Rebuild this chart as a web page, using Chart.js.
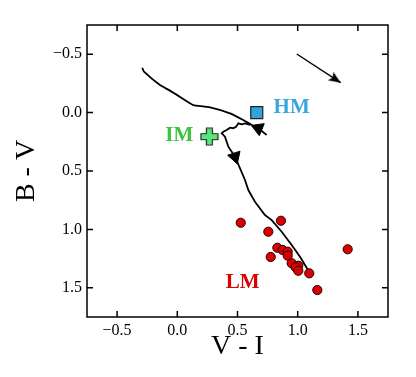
<!DOCTYPE html>
<html><head><meta charset="utf-8">
<script src="https://cdn.jsdelivr.net/npm/chart.js@4.4.1/dist/chart.umd.min.js"></script>
<style>html,body{margin:0;padding:0;background:#fff}canvas{display:block}</style>
</head><body>
<canvas id="c" width="416" height="377"></canvas>
<script>
// ---- data ----
const xTicks = [-0.5, 0.0, 0.5, 1.0, 1.5];
const yTicks = [-0.5, 0.0, 0.5, 1.0, 1.5];

const lmVI = [0.527, 0.861, 0.756, 0.831, 0.875, 0.917, 0.917, 0.776, 0.950, 1.005, 0.983, 1.005, 1.096, 1.163, 1.415];
const lmBV = [0.943, 0.926, 1.020, 1.157, 1.176, 1.191, 1.225, 1.236, 1.290, 1.311, 1.324, 1.354, 1.376, 1.519, 1.170];

const hmVI = [0.66];
const hmBV = [0.0];
const imVI = [0.266];
const imBV = [0.206];

const trackAVI = [-0.291, -0.277, -0.144, -0.061, 0.105, 0.133, 0.272, 0.438, 0.548, 0.618, 0.673, 0.742];
const trackABV = [-0.384, -0.350, -0.236, -0.188, -0.080, -0.065, -0.045, 0.006, 0.063, 0.106, 0.134, 0.192];

const trackBVI = [0.604, 0.562, 0.535, 0.507, 0.488, 0.465, 0.438, 0.410, 0.382, 0.369, 0.396, 0.410, 0.424, 0.452, 0.479, 0.521, 0.562, 0.590, 0.645, 0.728, 0.784, 0.867, 0.950, 1.019, 1.102];
const trackBBV = [0.106, 0.092, 0.100, 0.092, 0.121, 0.134, 0.129, 0.149, 0.164, 0.177, 0.206, 0.249, 0.292, 0.335, 0.378, 0.477, 0.577, 0.663, 0.763, 0.877, 0.920, 1.020, 1.134, 1.234, 1.376];

const markVI = [0.673, 0.479];
const markBV = [0.134, 0.378];

const vecVI = [0.992, 1.357];
const vecBV = [-0.502, -0.256];

const labelText = ['HM', 'IM', 'LM'];
const labelVI = [0.950, 0.017, 0.543];
const labelBV = [-0.045, 0.200, 1.455];
const labelColor = ['#3aa6de', '#3cc43c', '#dd0000'];

// ---- helpers ----
const pts = (xs, ys) => xs.map((x, i) => ({x: x, y: ys[i]}));

function crossImage() {
  const c = document.createElement('canvas');
  c.width = 19; c.height = 19;
  const g = c.getContext('2d');
  const a = 6.5, b = 12.5, s = 18, o = 1;
  g.beginPath();
  g.moveTo(a, o); g.lineTo(b, o); g.lineTo(b, a); g.lineTo(s, a); g.lineTo(s, b);
  g.lineTo(b, b); g.lineTo(b, s); g.lineTo(a, s); g.lineTo(a, b); g.lineTo(o, b);
  g.lineTo(o, a); g.lineTo(a, a); g.closePath();
  g.fillStyle = '#55e87c'; g.fill();
  g.lineWidth = 1.2; g.strokeStyle = '#2a2a2a'; g.stroke();
  return c;
}
function headImage() {
  const c = document.createElement('canvas');
  c.width = 26; c.height = 14;
  const g = c.getContext('2d');
  g.beginPath();
  g.moveTo(13, 7); g.lineTo(1, 2); g.lineTo(3.5, 7); g.lineTo(1, 12); g.closePath();
  g.fillStyle = '#000'; g.fill();
  return c;
}

const serif = '"Liberation Serif", "DejaVu Serif", serif';
const fmt = v => (v < 0 ? '\u2212' : '') + Math.abs(v).toFixed(1);

const framePlugin = {
  id: 'frame',
  afterDatasetsDraw(chart) {
    const ctx = chart.ctx;
    ctx.save();
    ctx.font = 'bold 21px ' + serif;
    ctx.textAlign = 'center';
    ctx.textBaseline = 'middle';
    const xs = chart.scales.x, ys = chart.scales.y;
    labelText.forEach((t, i) => {
      ctx.fillStyle = labelColor[i];
      ctx.fillText(t, xs.getPixelForValue(labelVI[i]), ys.getPixelForValue(labelBV[i]));
    });
    ctx.restore();
  },
  afterDraw(chart) {
    const ctx = chart.ctx, a = chart.chartArea;
    const xs = chart.scales.x, ys = chart.scales.y;
    ctx.save();
    ctx.strokeStyle = '#000';
    ctx.lineWidth = 1.5;
    const L = 6;
    ctx.beginPath();
    xTicks.forEach(v => {
      const px = xs.getPixelForValue(v);
      ctx.moveTo(px, a.bottom); ctx.lineTo(px, a.bottom - L);
      ctx.moveTo(px, a.top); ctx.lineTo(px, a.top + L);
    });
    yTicks.forEach(v => {
      const py = ys.getPixelForValue(v);
      ctx.moveTo(a.left, py); ctx.lineTo(a.left + L, py);
      ctx.moveTo(a.right, py); ctx.lineTo(a.right - L, py);
    });
    ctx.stroke();
    ctx.strokeRect(a.left, a.top, a.right - a.left, a.bottom - a.top);
    ctx.restore();
  }
};

new Chart(document.getElementById('c'), {
  type: 'scatter',
  data: {
    datasets: [
      {data: pts(lmVI, lmBV), pointStyle: 'circle', pointRadius: 4.6, backgroundColor: '#dd0000', borderColor: '#220000', borderWidth: 1},
      {data: pts(hmVI, hmBV), pointStyle: 'rect', pointRadius: 8.5, backgroundColor: '#2ea3dc', borderColor: '#222', borderWidth: 1.2},
      {data: pts(imVI, imBV), pointStyle: crossImage(), pointRadius: 9},
      {data: pts(markVI, markBV), pointStyle: 'triangle', pointRadius: 7.5, rotation: [172, 162], backgroundColor: '#000', borderColor: '#000', borderWidth: 1},
      {data: pts(vecVI.slice(1), vecBV.slice(1)), pointStyle: headImage(), pointRadius: 7, rotation: 33},
      {data: pts(vecVI, vecBV), showLine: true, pointRadius: 0, borderColor: '#000', borderWidth: 1.4},
      {data: pts(trackAVI, trackABV), showLine: true, pointRadius: 0, borderColor: '#000', borderWidth: 1.8, tension: 0.2},
      {data: pts(trackBVI, trackBBV), showLine: true, pointRadius: 0, borderColor: '#000', borderWidth: 1.8}
    ]
  },
  options: {
    responsive: false,
    animation: false,
    devicePixelRatio: 1,
    layout: {padding: {left: 0, top: 25, right: 28, bottom: 0}},
    plugins: {legend: {display: false}, tooltip: {enabled: false}},
    elements: {point: {hoverRadius: 0}},
    scales: {
      x: {
        type: 'linear', min: -0.75, max: 1.75,
        grid: {display: false, drawTicks: false},
        border: {display: false},
        afterBuildTicks: s => { s.ticks = xTicks.map(v => ({value: v})); },
        afterFit: s => { s.height = 60; },
        ticks: {callback: fmt, font: {family: serif, size: 16}, color: '#000', padding: 4, maxRotation: 0, autoSkip: false},
        title: {display: true, text: 'V - I', font: {family: serif, size: 28}, color: '#000', padding: {top: 0, bottom: 14}}
      },
      y: {
        type: 'linear', min: -0.75, max: 1.75, reverse: true,
        grid: {display: false, drawTicks: false},
        border: {display: false},
        afterBuildTicks: s => { s.ticks = yTicks.map(v => ({value: v})); },
        afterFit: s => { s.width = 87; },
        ticks: {callback: fmt, font: {family: serif, size: 16}, color: '#000', padding: 5, autoSkip: false},
        title: {display: true, text: 'B - V', font: {family: serif, size: 28}, color: '#000', padding: {top: 10, bottom: 0}}
      }
    }
  },
  plugins: [framePlugin]
});
</script>
</body></html>
